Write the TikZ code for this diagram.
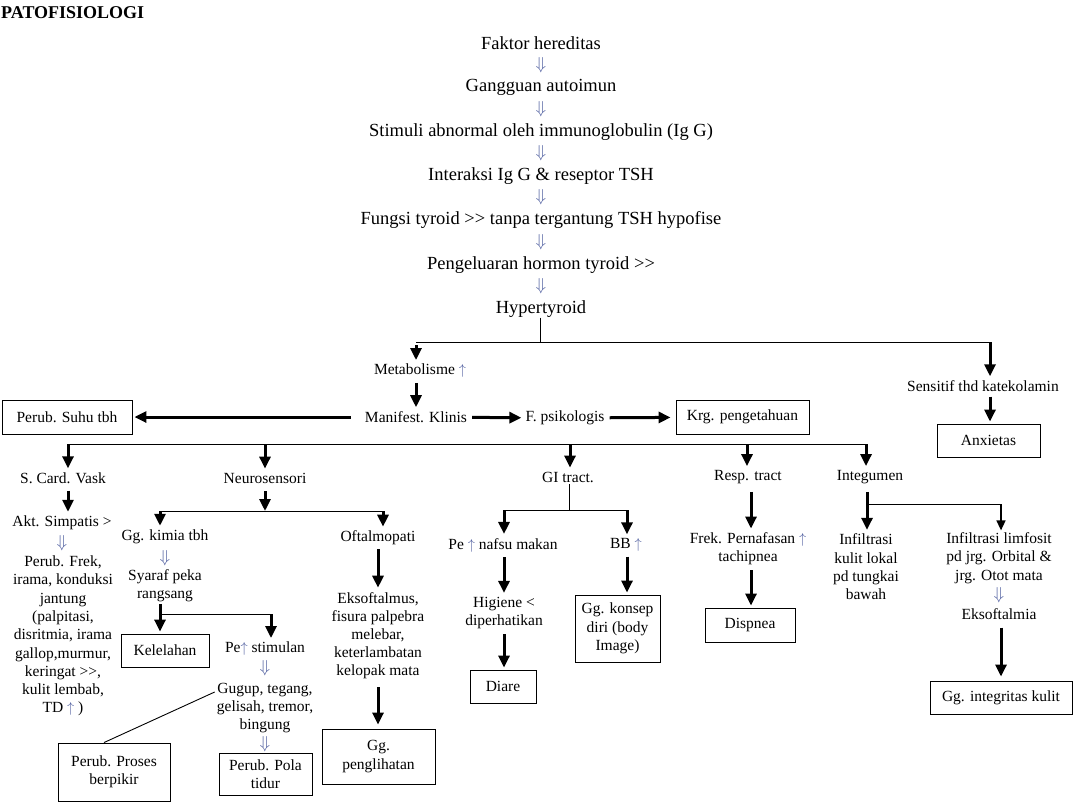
\documentclass[tikz,border=0pt]{standalone}
\usepackage{fontspec}
\setmainfont{Liberation Serif}
\usetikzlibrary{arrows.meta}
\definecolor{arrcol}{RGB}{80,95,160}
\newcommand{\dnar}{\textcolor{arrcol}{\fontsize{17}{18}\selectfont$\Downarrow$}}
\newcommand{\upar}{\textcolor{arrcol}{$\uparrow$}}
\begin{document}
\begin{tikzpicture}[x=1pt,y=-1pt,
  big/.style={font=\fontsize{18.5}{21}\selectfont,inner sep=0pt},
  txt/.style={font=\fontsize{15.5}{18.3}\selectfont,inner sep=2pt,align=center},
  dnn/.style={inner sep=0pt},
  box/.style={txt,draw,line width=0.9pt,minimum height=34pt},
  arr/.style={line width=3pt,-{Triangle[length=12pt,width=11pt]},shorten <=3pt,shorten >=2pt},
  thinarr/.style={line width=1.6pt,-{Triangle[length=10pt,width=9pt]}},
  ln/.style={line width=0.9pt}]
\fill[white] (0,0) rectangle (1083,803);
\useasboundingbox (0,0) rectangle (1083,803);
\node[anchor=west,font=\fontsize{18}{20}\selectfont\bfseries,inner sep=0pt] (title) at (1,13) {PATOFISIOLOGI};
% causal chain
\node[big] (fak) at (541,43) {Faktor hereditas};
\node[big] (gang) at (541,87) {Gangguan autoimun};
\node[big] (stim) at (541,132) {Stimuli abnormal oleh immunoglobulin (Ig G)};
\node[big] (inter) at (541,176) {Interaksi Ig G \& reseptor TSH};
\node[big] (fung) at (541,220) {Fungsi tyroid >{}> tanpa tergantung TSH hypofise};
\node[big] (peng) at (541,265) {Pengeluaran hormon tyroid >{}>};
\node[big] (hyp) at (541,309) {Hypertyroid};
\foreach \y in {65,109,153,197,242,286}
  \node[dnn] (dn\y) at (541,\y) {\dnar};
\coordinate (split) at (540,342);
\coordinate (jl) at (416,342);
\coordinate (jr) at (990,342);
\draw[ln] (hyp.south -| split) -- (split);
\draw[ln] (jl) -- (jr);
% manifestations
\node[txt] (meta) at (420,371) {Metabolisme \upar};
\node[txt] (manif) at (416,417) {Manifest. Klinis};
\node[box,minimum width=130pt] (suhu) at (67,417) {Perub. Suhu tbh};
\node[txt] (psi) at (565,418) {F. psikologis};
\node[box,minimum width=133pt] (krg) at (742.5,417) {Krg. pengetahuan};
\node[txt] (sens) at (983,386) {Sensitif thd katekolamin};
\node[box,minimum width=103pt,minimum height=33pt] (anx) at (988.5,440.5) {Anxietas};
\draw[arr] (jl) -- (jl |- meta.north);
\draw[arr] (meta.south -| jl) -- (manif.north -| jl);
\draw[arr,shorten <=12pt] (manif) -- (suhu);
\draw[arr] (manif) -- (psi);
\draw[arr,shorten <=3pt,shorten >=5pt] (psi) -- (krg);
\draw[arr,shorten <=0pt] (jr) -- (jr |- sens.north);
\draw[arr] (sens.south -| jr) -- (anx.north -| jr);
% systems
\coordinate (b1) at (68,444);
\coordinate (b2) at (265,444);
\coordinate (b3) at (570,444);
\coordinate (b4) at (747,444);
\coordinate (b5) at (866,444);
\draw[ln] (b1) -- (b5);
\node[txt] (card) at (63,478) {S. Card. Vask};
\node[txt] (neuro) at (265,478) {Neurosensori};
\node[txt] (gitr) at (568,477) {GI tract.};
\node[txt] (resp) at (748,477) {Resp. tract};
\node[txt] (integ) at (870,477) {Integumen};
\draw[arr,shorten <=0pt] (b1) -- (b1 |- card.north);
\draw[arr,shorten <=0pt] (b2) -- (b2 |- neuro.north);
\draw[arr,shorten <=0pt] (b3) -- (b3 |- gitr.north);
\draw[arr,shorten <=0pt] (b4) -- (b4 |- resp.north);
\draw[arr,shorten <=0pt] (b5) -- (b5 |- integ.north);
% cardiovascular
\node[txt] (akt) at (62,523) {Akt. Simpatis >};
\node[dnn] (dnakt) at (62,543) {\dnar};
\node[txt] (frek) at (63,636) {Perub. Frek,\\irama, konduksi\\jantung\\(palpitasi,\\disritmia, irama\\gallop,murmur,\\keringat >{}>,\\kulit lembab,\\TD \upar\ )};
\draw[arr,shorten <=5pt] (card.south -| b1) -- (akt.north -| b1);
% neurosensory
\coordinate (ns) at (265,511);
\coordinate (nsl) at (160,511);
\coordinate (nsr) at (383,511);
\draw[arr,shorten <=6pt,shorten >=0pt] (neuro.south) -- (ns);
\draw[ln] (nsl) -- (nsr);
\node[txt] (kimia) at (165,537) {Gg. kimia tbh};
\node[dnn] (dnkim) at (165,558) {\dnar};
\node[txt] (syaraf) at (165,586) {Syaraf peka\\rangsang};
\node[txt] (oft) at (378,538) {Oftalmopati};
\draw[arr,shorten <=0pt] (nsl) -- (nsl |- kimia.north);
\draw[arr,shorten <=0pt] (nsr) -- (nsr |- oft.north);
\coordinate (sk) at (160,614);
\coordinate (sk2) at (271,614);
\node[box,minimum width=88pt,minimum height=33pt] (kel) at (165,650.5) {Kelelahan};
\node[txt] (stimul) at (265,649) {Pe\upar\ stimulan};
\node[dnn] (dnst) at (265,668) {\dnar};
\node[txt] (gugup) at (265,708) {Gugup, tegang,\\gelisah, tremor,\\bingung};
\node[dnn] (dngu) at (265,744) {\dnar};
\node[box,minimum width=93pt,minimum height=42pt,inner sep=1pt] (pola) at (265.5,774) {Perub. Pola\\tidur};
\node[box,minimum width=112pt,minimum height=58pt] (proses) at (114,772) {Perub. Proses\\berpikir};
\draw[arr,shorten <=0pt] (syaraf.south -| sk) -- (sk |- kel.north);
\draw[ln] (sk) -- (sk2);
\draw[arr,shorten <=0pt] (sk2) -- (sk2 |- stimul.north);
\draw[ln] ([yshift=16pt]gugup.west) -- ([xshift=-10pt]proses.north);
% ophthalmopathy
\node[txt,font=\fontsize{15.5}{18}\selectfont] (eks) at (378,636) {Eksoftalmus,\\fisura palpebra\\melebar,\\keterlambatan\\kelopak mata};
\node[box,minimum width=113pt,minimum height=55pt] (lihat) at (378.5,756.5) {Gg.\\penglihatan};
\draw[arr,shorten <=2pt,shorten >=3pt] (oft) -- (eks);
\draw[arr,shorten <=6pt,shorten >=4pt] (eks.south) -- (lihat.north -| eks.south);
% GI tract
\coordinate (gi) at (569,510);
\coordinate (gil) at (504,510);
\coordinate (gir) at (627,510);
\draw[ln] (gitr.south -| gi) -- (gi);
\draw[ln] (gil) -- (gir);
\node[txt] (nafsu) at (503,545) {Pe \upar\ nafsu makan};
\node[txt] (bb) at (626,545) {BB \upar};
\node[txt] (hig) at (504,613) {Higiene <\\diperhatikan};
\node[box,minimum width=66pt,minimum height=33pt] (diare) at (503,686.5) {Diare};
\node[box,minimum width=85pt,minimum height=67pt,inner sep=1pt] (konsep) at (617.5,628.5) {Gg. konsep\\diri (body\\Image)};
\draw[arr,shorten <=0pt] (gil) -- (gil |- nafsu.north);
\draw[arr,shorten <=0pt] (gir) -- (gir |- bb.north);
\draw[arr] (nafsu.south -| gil) -- (hig.north -| gil);
\draw[arr] (hig.south -| gil) -- (diare.north -| gil);
\draw[arr] (bb.south -| gir) -- (konsep.north -| gir);
% respiratory
\coordinate (rs) at (751,444);
\node[txt] (napas) at (748,549) {Frek. Pernafasan \upar\\tachipnea};
\node[box,minimum width=90pt] (disp) at (750,625) {Dispnea};
\draw[arr,shorten <=6pt] (resp.south -| rs) -- (napas.north -| rs);
\draw[arr] (napas.south -| rs) -- (disp.north -| rs);
% integument
\coordinate (ig) at (867,504);
\coordinate (igr) at (1001,504);
\node[txt] (kulit) at (866,567) {Infiltrasi\\kulit lokal\\pd tungkai\\bawah};
\node[txt] (limf) at (999,558) {Infiltrasi limfosit\\pd jrg. Orbital \&\\jrg. Otot mata};
\node[dnn] (dnlim) at (999,595) {\dnar};
\node[txt] (eksm) at (999,614) {Eksoftalmia};
\node[box,minimum width=142pt,minimum height=33pt] (kutis) at (1001,697.5) {Gg. integritas kulit};
\draw[arr,shorten <=6pt] (integ.south -| ig) -- (kulit.north -| ig);
\draw[ln] (ig) -- (igr);
\draw[thinarr] (igr) -- (igr |- limf.north);
\draw[arr,shorten <=6pt,shorten >=4pt] (eksm.south -| igr) -- (kutis.north -| igr);
\end{tikzpicture}
\end{document}
